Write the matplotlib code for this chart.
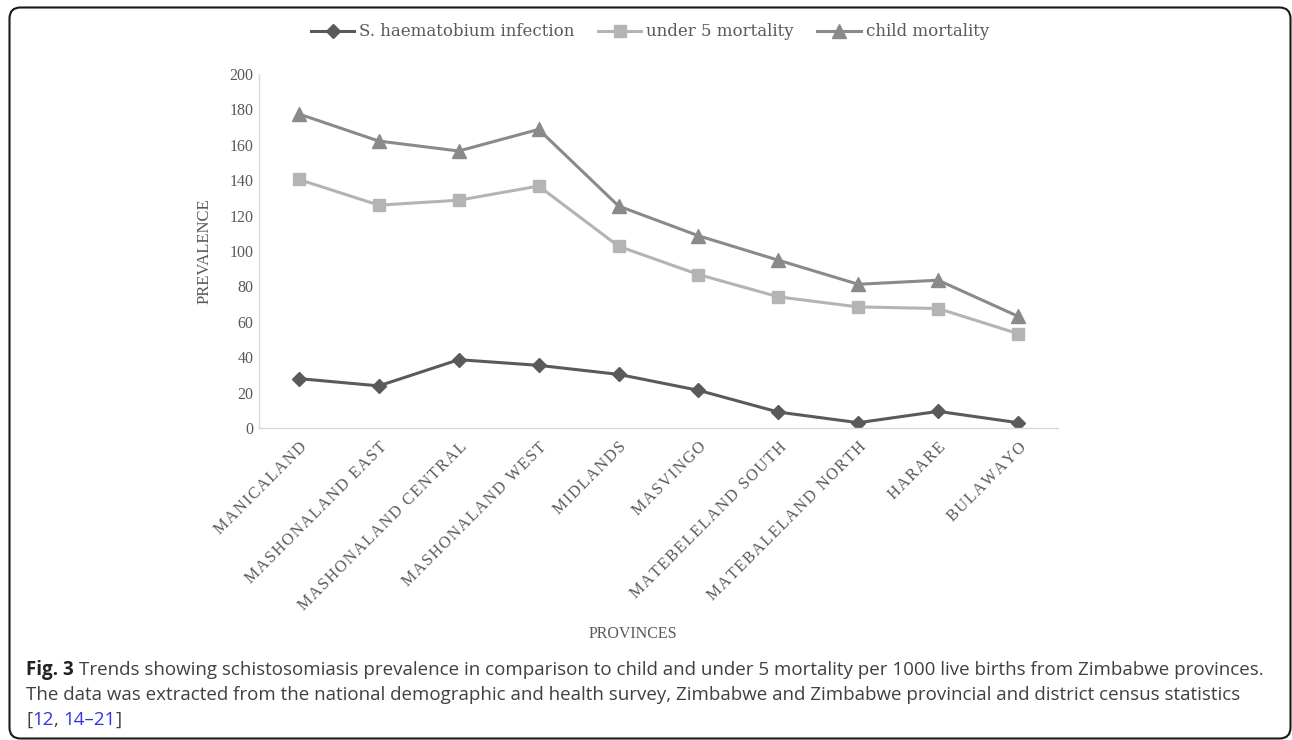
import numpy as np
import matplotlib.pyplot as plt
from matplotlib.patches import FancyBboxPatch
from matplotlib.transforms import ScaledTranslation

# province categories and the three series
provinces = ["MANICALAND", "MASHONALAND EAST", "MASHONALAND CENTRAL",
             "MASHONALAND WEST", "MIDLANDS", "MASVINGO", "MATEBELELAND SOUTH",
             "MATEBALELAND NORTH", "HARARE", "BULAWAYO"]
s_haematobium = [27.9, 23.8, 38.6, 35.4, 30.3, 21.3, 9.0, 3.0, 9.4, 3.0]
under5_mortality = [140.4, 125.9, 128.7, 136.7, 102.7, 86.7, 74.1, 68.4, 67.5, 53.3]
child_mortality = [177.4, 162.1, 156.5, 168.7, 125.4, 108.6, 94.8, 81.2, 83.5, 63.1]
y_ticks = [0, 20, 40, 60, 80, 100, 120, 140, 160, 180, 200]

series_names = ["S. haematobium infection", "under 5 mortality", "child mortality"]
caption_1 = "Trends showing schistosomiasis prevalence in comparison to child and under 5 mortality per 1000 live births from Zimbabwe provinces."
caption_2 = "The data was extracted from the national demographic and health survey, Zimbabwe and Zimbabwe provincial and district census statistics"

SERIF = ["Liberation Serif", "DejaVu Serif"]
GREY = "#595959"

W, H = 1292, 740
fig = plt.figure(figsize=(W / 100, H / 100), dpi=100)
plt.rcParams["font.family"] = SERIF


def px_box(left, top, right, bottom):
    return [left / W, 1 - bottom / H, (right - left) / W, (bottom - top) / H]


# background layer in pixel units: frame, axis titles, caption
bg = fig.add_axes([0, 0, 1, 1], zorder=0)
bg.set_xlim(0, W)
bg.set_ylim(H, 0)
bg.axis("off")
bg.add_patch(FancyBboxPatch((9.5, 7.5), 1281, 731,
                            boxstyle="round,pad=0,rounding_size=11",
                            fill=False, ec="#1a1a1a", lw=1.5, clip_on=False))

ax = fig.add_axes(px_box(259, 74, 1058, 428), zorder=1)
ax.patch.set_alpha(0)

x = np.arange(len(provinces))
ax.plot(x, s_haematobium, color="#5a5a5a", lw=2.2, marker="D", ms=7.5,
        label=series_names[0])
ax.plot(x, under5_mortality, color="#b4b4b4", lw=2.2, marker="s", ms=9,
        label=series_names[1])
ax.plot(x, child_mortality, color="#8a8a8a", lw=2.2, marker="^", ms=10,
        label=series_names[2])

ax.set_xlim(-0.5, len(provinces) - 0.5)
ax.set_ylim(0, 200)
ax.set_yticks(y_ticks)
ax.set_xticks(x)
spaced = ["\u200a".join(p) for p in provinces]
ax.set_xticklabels(spaced, rotation=45, ha="right", va="top",
                   rotation_mode="anchor", fontsize=11.7)
shift = ScaledTranslation(0.08, -0.08, fig.dpi_scale_trans)
for lab in ax.get_xticklabels():
    lab.set_transform(lab.get_transform() + shift)
ax.tick_params(length=0, labelcolor=GREY)
ax.tick_params(axis="y", pad=4, labelsize=11.5)
ax.tick_params(axis="x", pad=8)
for side in ["top", "right"]:
    ax.spines[side].set_visible(False)
for side in ["left", "bottom"]:
    ax.spines[side].set_color("#d9d9d9")
    ax.spines[side].set_linewidth(1)

ax.legend(loc="center", bbox_to_anchor=(650 / W, 1 - 32 / H),
          bbox_transform=fig.transFigure, ncol=3, frameon=False,
          prop={"family": "DejaVu Serif", "size": 12}, labelcolor=GREY,
          handlelength=2.6, handletextpad=0.3, columnspacing=1.4)

bg.text(205, 251, "PREVALENCE", rotation=90, ha="center", va="center",
        fontsize=12, color=GREY)
bg.text(633, 634, "PROVINCES", ha="center", va="center",
        fontsize=11.5, color=GREY)

# caption, drawn run by run so bold and blue parts sit inline
cap_size = 13.5
renderer = fig.canvas.get_renderer()
space = cap_size * 100 / 72 * 0.26


def runs(x0, y, parts):
    xx = x0
    for s, kw in parts:
        if s == " ":
            xx += space
            continue
        t = bg.text(xx, y, s, ha="left", va="baseline", family="Open Sans",
                    fontsize=cap_size, **kw)
        xx += t.get_window_extent(renderer).width


runs(26, 675, [("Fig. 3", {"weight": "bold", "color": "#222222"}), (" ", {}),
               (caption_1, {"color": "#404040"})])
runs(26, 700, [(caption_2, {"color": "#404040"})])
runs(26, 725, [("[", {"color": "#404040"}), ("12", {"color": "#3333e6"}),
               (",", {"color": "#404040"}), (" ", {}),
               ("14\u201321", {"color": "#3333e6"}), ("]", {"color": "#404040"})])

fig.savefig("out.png", dpi=100)
